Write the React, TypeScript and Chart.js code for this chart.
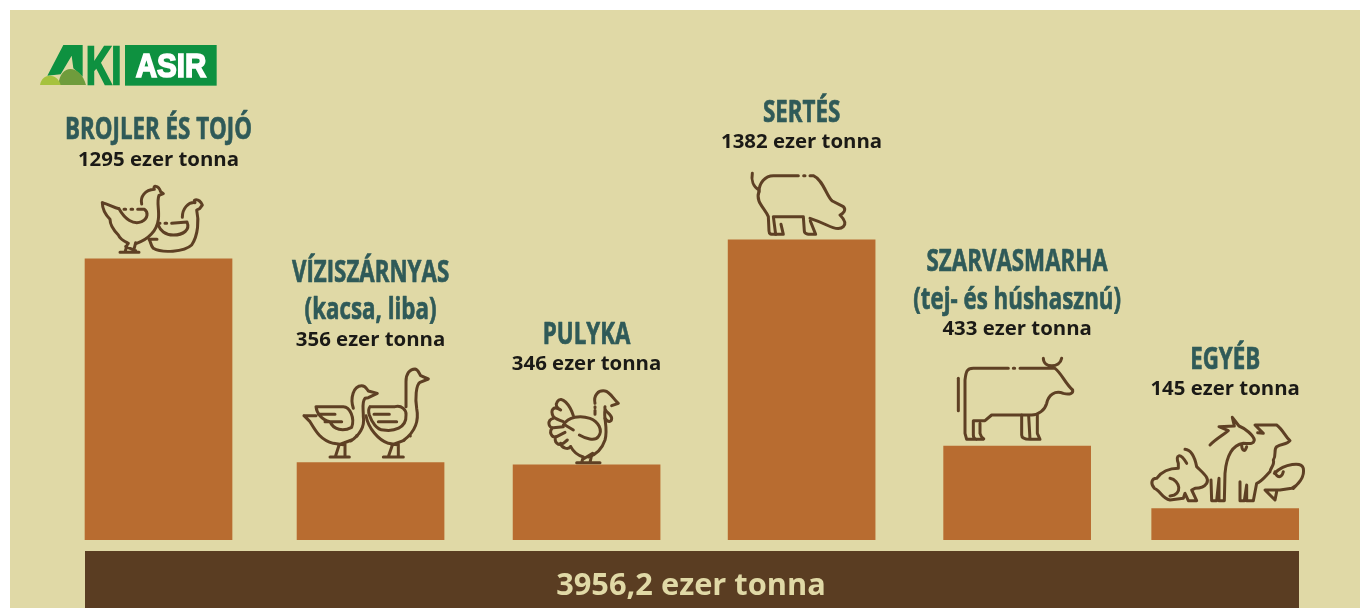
import React, { useEffect, useRef } from "react";
import { Chart } from "chart.js/auto";

const categories = ["BROJLER ÉS TOJÓ", "VÍZISZÁRNYAS", "PULYKA", "SERTÉS", "SZARVASMARHA", "EGYÉB"];
const subtitles = ["", "(kacsa, liba)", "", "", "(tej- és húshasznú)", ""];
const tonnes = [1295, 356, 346, 1382, 433, 145];
const unitLabel = "ezer tonna";
const totalValue = 3956.2;
const totalLabel = "3956,2 ezer tonna";

const BG = "#e0d9a6";
const BAR = "#b86c30";
const BAND = "#5a3d22";
const TITLE = "#2f5a58";
const INK = "#1b1a16";
const ICON = "#5e4024";

// layout tweaks, away from the data
const nudgeX = [0, -1.3, 1.4, 3.1, 5.3, 0];
const titleGap = [129, 0, 130, 127, 0, 148];
const titleGapTwoLines = [0, 190, 0, 0, 184, 0];
const subGap = [0, 153, 0, 0, 146, 0];
const valueGap = [99, 123, 101, 98, 117, 119];

const icons: { ox: number; oy: number; paths: string[] }[] = [
  {
    ox: 95,
    oy: 180,
    paths: [
      "M140,72 C135,50 150,30 178,28 C172,16 190,14 197,35 L205,41 L192,46 C184,66 194,90 190,118 C186,152 160,178 125,190",
      "M22,68 C40,72 55,82 72,86 M87,88 L92,88 M108,88 L113,88 M128,88 L148,88 C160,96 160,115 140,125 C115,135 90,118 72,86",
      "M22,68 C22,85 28,100 45,118 C45,135 55,150 70,165 C75,178 90,185 100,190",
      "M98,190 L90,216 M122,188 L115,216 M75,217 L132,217 M92,200 L122,212",
      "M262,112 C262,85 280,66 300,68 C290,58 312,52 322,75 L314,86 L305,90 C312,120 310,165 290,195 C268,216 200,220 175,205 C166,196 168,185 162,178 L186,178",
      "M190,130 L195,130 M210,130 L215,130 M230,130 L276,126 C286,150 265,165 235,165 C210,165 195,150 190,136",
    ],
  },
  {
    ox: 300,
    oy: 365,
    paths: [
      "M160,130 C150,100 160,62 185,62 C197,62 200,72 205,78 L232,85 L205,98 L195,100 C185,110 190,130 190,155 C195,185 178,212 152,228",
      "M48,125 L130,125 C150,125 165,160 155,187 C130,200 100,195 90,170 C65,165 50,145 48,125 M55,148 L105,148 M75,170 L125,170",
      "M12,152 L48,152 M12,152 L30,170 C45,195 60,225 100,235 L135,240 M118,238 L106,275 M135,238 L135,275 M90,276 L148,276 M115,240 L155,225",
      "M170,212 L171,213 M330,212 L331,213",
      "M318,125 L318,50 C318,25 330,12 345,12 C356,14 358,28 362,32 L385,42 L360,52 C348,60 345,100 350,130 C358,170 345,200 312,225",
      "M210,125 L285,125 C305,120 320,135 318,150 C320,190 280,200 250,195 C230,195 215,170 208,150 C205,140 206,130 210,125 M222,148 L268,148 M235,170 L290,170",
      "M198,152 C205,190 235,225 265,235 L295,240 M278,238 L265,275 M295,238 L295,275 M250,276 L310,276 M275,240 L312,226",
    ],
  },
  {
    ox: 540,
    oy: 385,
    paths: [
      "M165,55 C160,30 175,15 195,18 C210,20 218,40 235,55 L215,62 M195,65 C190,80 215,85 215,100 C215,110 205,115 195,100",
      "M165,65 L165,68 M165,76 L165,88",
      "M195,75 C190,100 205,130 195,165 C185,195 165,210 145,216",
      "M70,120 C85,95 120,90 150,100 C175,110 190,135 175,155 C165,170 135,160 118,150 M75,120 L100,135",
      "M100,92 C90,60 65,30 52,50 C45,60 50,70 62,75 C40,60 30,75 40,95 C45,100 55,105 70,110 M40,100 C20,105 25,130 40,128 L70,125 M38,128 C25,140 35,160 50,155 L75,142 M48,155 C40,170 55,185 70,175 L82,165 M62,175 C65,190 85,195 92,185",
      "M92,185 C100,200 115,212 130,216 M130,216 L125,232 M155,210 L150,232 M110,233 L180,233 M130,222 L158,205",
    ],
  },
  {
    ox: 745,
    oy: 165,
    paths: [
      "M42,75 C25,65 18,45 22,25",
      "M42,80 C42,55 60,32 85,32 L160,32 M176,32 L180,32 M195,32 L205,32 C235,45 245,95 262,108 L295,125 C305,135 295,145 285,150 C295,160 305,175 295,185 C285,195 265,190 245,180 C225,170 210,165 195,160",
      "M42,80 C30,110 60,130 70,155 L72,198 C72,210 80,208 95,208 L115,208 L108,178",
      "M92,208 L85,155 L175,155 L178,198 C178,208 190,208 212,208 L196,168",
    ],
  },
  {
    ox: 950,
    oy: 350,
    paths: [
      "M280,25 C280,55 330,55 335,25",
      "M45,90 C48,65 50,55 70,55 L175,55 M190,55 L194,55 M210,55 L315,55 C335,70 345,100 368,120 C370,130 360,135 340,130 C315,120 295,135 290,160 C285,180 265,195 245,195 L125,195 L105,212 L70,212 L70,255 C70,268 80,268 78,268 L50,268 L45,250 L45,90",
      "M25,85 L25,182",
      "M90,220 L90,250 C95,268 105,265 100,268 L80,268",
      "M215,195 L215,255 C215,265 225,268 240,268 L236,198 M262,195 L262,250 L270,268 L245,268",
    ],
  },
  {
    ox: 1145,
    oy: 410,
    paths: [
      "M100,160 C90,135 105,125 125,160 M120,118 C140,120 150,145 155,170 C175,190 195,205 185,220 C175,235 160,235 150,235 L140,240 L155,272 L130,272 L120,250 L115,265 L75,270 C50,265 45,240 28,235 C15,220 20,205 35,205 C50,185 75,175 100,175 L100,160",
      "M75,205 C105,210 115,255 75,258",
      "M195,105 C215,85 235,75 250,62 L222,50 L268,48 L262,22 L282,48 C300,55 325,75 328,90 C325,105 310,100 295,100 C265,105 245,130 240,190 L238,272 L222,272 L222,205 L215,272 L200,272 L198,210",
      "M290,105 C290,120 300,130 305,110",
      "M338,68 L355,70 L330,45 L395,45 C415,60 420,80 435,92 C425,105 410,100 395,110 C385,120 395,135 385,150 C390,165 375,175 375,185 C360,200 350,215 335,220 L325,272 L305,272 L305,225 L298,272 L285,272 L285,215",
      "M388,190 C420,160 470,155 475,175 C480,200 460,225 440,235 L405,240 L360,240 L390,270 L395,245 M390,185 C395,205 410,205 415,185 M445,235 L455,225",
    ],
  },
];

function centered(
  ctx: CanvasRenderingContext2D,
  text: string,
  x: number,
  y: number,
  squeeze: number,
  embolden = 0,
) {
  ctx.save();
  ctx.translate(x, y);
  ctx.scale(squeeze, 1);
  ctx.textAlign = "center";
  ctx.textBaseline = "middle";
  if (embolden > 0) {
    ctx.strokeStyle = ctx.fillStyle as string;
    ctx.lineWidth = embolden;
    ctx.lineJoin = "round";
    ctx.strokeText(text, 0, 0);
  }
  ctx.fillText(text, 0, 0);
  ctx.restore();
}

function drawLogo(ctx: CanvasRenderingContext2D) {
  ctx.save();
  ctx.translate(30, 35);
  ctx.scale(1 / 3, 1 / 3);
  ctx.fillStyle = "#0e9140";
  ctx.fillRect(285, 30, 275, 122);
  ctx.fill(new Path2D("M52,122 L100,30 L158,30 L158,125 L130,100 L125,62 L92,118 Z"));
  ctx.fillStyle = "#6f9c3c";
  ctx.fill(new Path2D("M85,150 C90,86 150,86 168,150 Z"));
  ctx.fillStyle = "#a6c23e";
  ctx.fill(new Path2D("M30,150 C36,113 82,113 92,150 Z"));
  ctx.textAlign = "left";
  ctx.textBaseline = "alphabetic";
  ctx.fillStyle = "#0e9140";
  ctx.strokeStyle = "#0e9140";
  ctx.lineWidth = 7;
  ctx.lineJoin = "miter";
  ctx.font = 'bold 160px "Liberation Sans"';
  ctx.strokeText("KI", 168, 148, 106);
  ctx.fillText("KI", 168, 148, 106);
  ctx.fillStyle = "#ffffff";
  ctx.strokeStyle = "#ffffff";
  ctx.lineWidth = 5;
  ctx.font = 'bold 100px "Liberation Sans"';
  ctx.strokeText("ASIR", 317, 126, 212);
  ctx.fillText("ASIR", 317, 126, 212);
  ctx.restore();
}

const decorations = {
  id: "decorations",
  afterDatasetsUpdate(chart: any) {
    chart.getDatasetMeta(0).data.forEach((bar: any, i: number) => {
      bar.x += nudgeX[i];
    });
  },
  afterDatasetsDraw(chart: any) {
    const ctx: CanvasRenderingContext2D = chart.ctx;
    drawLogo(ctx);
    ctx.save();
    chart.getDatasetMeta(0).data.forEach((bar: any, i: number) => {
      const top = bar.y;
      ctx.fillStyle = TITLE;
      ctx.font = 'bold 31px "Open Sans"';
      const titleY = subtitles[i] ? top - titleGapTwoLines[i] : top - titleGap[i];
      centered(ctx, categories[i], bar.x, titleY, 0.72, 0.7);
      if (subtitles[i]) centered(ctx, subtitles[i], bar.x, top - subGap[i], 0.72, 0.7);
      ctx.fillStyle = INK;
      ctx.font = 'bold 20.4px "Open Sans"';
      centered(ctx, `${tonnes[i]} ${unitLabel}`, bar.x, top - valueGap[i], 1);
      const icon = icons[i];
      ctx.save();
      ctx.translate(icon.ox, icon.oy);
      ctx.scale(1 / 3, 1 / 3);
      ctx.strokeStyle = ICON;
      ctx.lineWidth = 9;
      ctx.lineCap = "round";
      ctx.lineJoin = "round";
      icon.paths.forEach((d) => ctx.stroke(new Path2D(d)));
      ctx.restore();
    });
    ctx.restore();
  },
};

const bandLabel = {
  id: "bandLabel",
  afterDatasetsDraw(chart: any) {
    const ctx: CanvasRenderingContext2D = chart.ctx;
    ctx.save();
    ctx.fillStyle = BG;
    ctx.font = 'bold 30.8px "Open Sans"';
    centered(ctx, totalLabel, 606, 35, 1);
    ctx.restore();
  },
};

export default function App() {
  const barsRef = useRef<HTMLCanvasElement>(null);
  const bandRef = useRef<HTMLCanvasElement>(null);

  useEffect(() => {
    const bars = new Chart(barsRef.current!, {
      type: "bar",
      data: {
        labels: categories,
        datasets: [{ data: tonnes, backgroundColor: BAR, barThickness: 147, borderWidth: 0 }],
      },
      options: {
        animation: false,
        responsive: false,
        layout: { padding: { left: 51.85, right: 28.15, top: 236, bottom: 68 } },
        plugins: { legend: { display: false }, tooltip: { enabled: false } },
        scales: {
          x: { display: false },
          y: { display: false, min: 0, max: 1400 },
        },
      },
      plugins: [decorations],
    });
    const band = new Chart(bandRef.current!, {
      type: "bar",
      data: {
        labels: ["Összesen"],
        datasets: [{ data: [totalValue], backgroundColor: BAND, barPercentage: 1, categoryPercentage: 1, borderWidth: 0 }],
      },
      options: {
        indexAxis: "y",
        animation: false,
        responsive: false,
        plugins: { legend: { display: false }, tooltip: { enabled: false } },
        scales: {
          x: { display: false, min: 0, max: totalValue },
          y: { display: false },
        },
      },
      plugins: [bandLabel],
    });
    return () => {
      bars.destroy();
      band.destroy();
    };
  }, []);

  return (
    <div style={{ position: "fixed", left: 0, top: 0, width: 1360, height: 608, background: "#fff", overflow: "hidden" }}>
      <div style={{ position: "absolute", left: 10, top: 10, right: 0, bottom: 0, background: BG }} />
      <canvas ref={barsRef} width={1360} height={608} style={{ position: "absolute", left: 0, top: 0, display: "block" }} />
      <canvas ref={bandRef} width={1214} height={57} style={{ position: "absolute", left: 85, top: 551, display: "block" }} />
    </div>
  );
}
